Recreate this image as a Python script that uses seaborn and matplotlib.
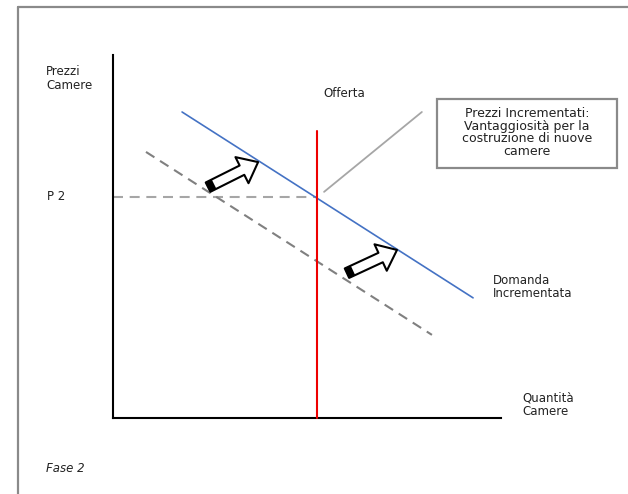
import matplotlib
matplotlib.use("Agg")
import matplotlib.pyplot as plt
import seaborn as sns
import pandas as pd
from matplotlib.patches import FancyArrowPatch, Rectangle
from matplotlib.lines import Line2D

sns.set_theme(style="white")
plt.rcParams['font.family'] = ['DejaVu Sans']

# ---- data (quantity, price) ----
demand_new_q = [1.78, 9.28]
demand_new_p = [8.43, 3.31]
demand_old_q = [0.85, 8.22]
demand_old_p = [7.33, 2.29]
supply_q = [5.26, 5.26]
supply_p = [0.0, 7.91]
p2_level = 6.09
p2_q = [0.0, 5.26]
shift_arrows = [((2.45, 6.36), (3.74, 7.05)), ((6.03, 3.99), (7.32, 4.63))]
callout_line_q = [7.96, 5.44]
callout_line_p = [8.43, 6.23]

lbl_y = "Prezzi\nCamere"
lbl_x = "Quantità\nCamere"
lbl_p2 = "P 2"
lbl_supply = "Offerta"
lbl_demand = "Domanda\nIncrementata"
lbl_box = "Prezzi Incrementati:\nVantaggiosità per la\ncostruzione di nuove\ncamere"
lbl_phase = "Fase 2"

fig = plt.figure(figsize=(6.28, 4.94), dpi=100)
ax = fig.add_axes([113/628, 76/494, 388/628, 363/494])
ax.set_xlim(0, 10)
ax.set_ylim(0, 10)

# outer frame (top and left edges)
fig.add_artist(Line2D([18/628, 1.0], [1 - 7/494, 1 - 7/494], transform=fig.transFigure,
                      color="#8a8a8a", lw=1.6))
fig.add_artist(Line2D([18/628, 18/628], [0.0, 1 - 7/494], transform=fig.transFigure,
                      color="#8a8a8a", lw=1.6))

df_new = pd.DataFrame({"q": demand_new_q, "p": demand_new_p})
df_old = pd.DataFrame({"q": demand_old_q, "p": demand_old_p})
df_sup = pd.DataFrame({"q": supply_q, "p": supply_p})
df_p2 = pd.DataFrame({"q": p2_q, "p": [p2_level, p2_level]})

sns.lineplot(data=df_p2, x="q", y="p", ax=ax, color="#a6a6a6", lw=1.5,
             sort=False, estimator=None)
ax.lines[-1].set_dashes([4.8, 3.2])
sns.lineplot(data=df_old, x="q", y="p", ax=ax, color="#808080", lw=1.5,
             sort=False, estimator=None)
ax.lines[-1].set_dashes([4.8, 3.2])
sns.lineplot(data=df_new, x="q", y="p", ax=ax, color="#4472C4", lw=1.2,
             sort=False, estimator=None)
sns.lineplot(data=df_sup, x="q", y="p", ax=ax, color="#ee0000", lw=1.5,
             sort=False, estimator=None, zorder=4)
ax.lines[-1].set_clip_on(False)

# callout connector
ax.plot(callout_line_q, callout_line_p, color="#a6a6a6", lw=1.3, clip_on=False)

# shift arrows
for (t, h) in shift_arrows:
    arr = FancyArrowPatch(t, h, arrowstyle="simple,head_width=21,head_length=13,tail_width=7.5",
                          mutation_scale=1, facecolor="white", edgecolor="black",
                          lw=1.5, zorder=5, clip_on=False, shrinkA=0, shrinkB=0)
    ax.add_patch(arr)
    frac = 0.12
    ce = (t[0] + frac*(h[0]-t[0]), t[1] + frac*(h[1]-t[1]))
    ax.plot([t[0], ce[0]], [t[1], ce[1]], color="black", lw=7.5,
            solid_capstyle="butt", zorder=6, clip_on=False)

# axes styling
for s in ["top", "right"]:
    ax.spines[s].set_visible(False)
for s in ["left", "bottom"]:
    ax.spines[s].set_color("black")
    ax.spines[s].set_linewidth(1.5)
ax.set_xticks([])
ax.set_yticks([])
ax.set_xlabel("")
ax.set_ylabel("")

fs = 8.5
ax.text(-1.73, 9.72, lbl_y, ha="left", va="top", fontsize=fs, color="#222222",
        linespacing=1.05, clip_on=False)
ax.text(-1.70, p2_level, lbl_p2, ha="left", va="center", fontsize=fs, color="#222222")
ax.text(5.41, 8.95, lbl_supply, ha="left", va="center", fontsize=fs, color="#222222")
ax.text(9.79, 3.98, lbl_demand, ha="left", va="top", fontsize=fs, color="#222222",
        linespacing=1.05, clip_on=False)
ax.text(10.54, 0.74, lbl_x, ha="left", va="top", fontsize=fs, color="#222222",
        linespacing=1.05, clip_on=False)
ax.text(-1.73, -1.38, lbl_phase, ha="left", va="center", fontsize=fs, style="italic",
        color="#222222")

box = Rectangle((8.35, 6.89), 4.64, 1.90, facecolor="white", edgecolor="#8a8a8a",
                lw=1.6, clip_on=False, zorder=3)
ax.add_patch(box)
ax.text(10.67, 7.87, lbl_box, ha="center", va="center", fontsize=9, color="#222222",
        linespacing=0.95, zorder=4)

fig.savefig("out.png", dpi=100)
